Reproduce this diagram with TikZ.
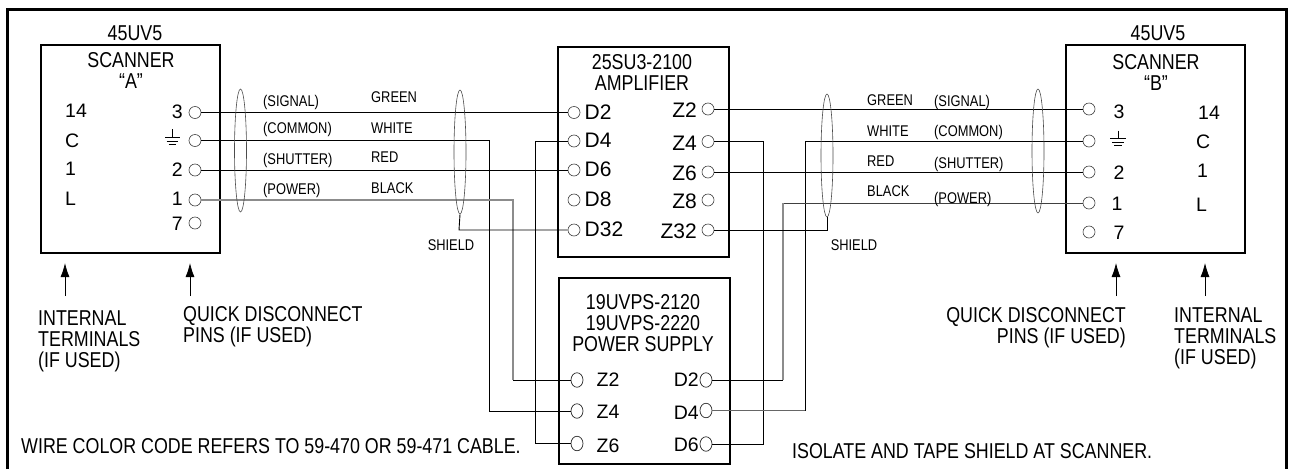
\documentclass[tikz,border=0pt]{standalone}
\usepackage{fontspec}
\usetikzlibrary{shapes.geometric,arrows.meta}
\setmainfont{Liberation Sans}
\newfontfamily\condf[FakeStretch=0.83]{Liberation Sans}
\tikzset{
 lbl/.style={inner sep=0pt,font=\condf\fontsize{21.5}{21}\selectfont},
 small/.style={inner sep=0pt,anchor=mid west,yshift=-3.4pt,font=\condf\fontsize{15.5}{16}\selectfont},
 pinlbl/.style={inner sep=0pt,anchor=mid,yshift=-4.8pt,font=\fontsize{19.5}{20}\selectfont},
 amplbl/.style={inner sep=0pt,anchor=mid,yshift=-5.3pt,font=\fontsize{21}{20}\selectfont},
 box/.style={draw,line width=2pt,rectangle,inner sep=0pt},
 pin/.style={draw=black!75,fill=white,line width=0.6pt,circle,minimum size=12pt,inner sep=0pt},
 pino/.style={draw=black!85,fill=white,line width=0.7pt,ellipse,minimum width=12pt,minimum height=14.5pt,inner sep=0pt},
 shield/.style={draw=black!70,line width=0.6pt,ellipse,minimum width=12pt,inner sep=0pt},
 wire/.style={draw,line width=0.9pt},
 gwire/.style={draw=black!45,line width=1.1pt},
 upar/.style={draw,line width=0.8pt,-{Latex[length=14pt,width=9pt]}},
 gndl/.style={line width=0.8pt}
}
\begin{document}
\begin{tikzpicture}[x=1pt,y=-1pt]
\useasboundingbox (0,0) rectangle (1290,469);
\fill[white] (0,0) rectangle (1290,469);
\draw[line width=3pt] (7.5,469) -- (7.5,9.5) -- (1286.5,9.5) -- (1286.5,469);
% boxes
\node[box,minimum width=179pt,minimum height=208pt] (sa) at (130.5,149) {};
\node[box,minimum width=179pt,minimum height=208pt] (sb) at (1155.5,149) {};
\node[box,minimum width=171pt,minimum height=210pt] (amp) at (643.5,152) {};
\node[box,minimum width=171pt,minimum height=186pt] (ps) at (644.5,371) {};
% titles
\node[lbl] (tA) at (135,33) {45UV5};
\node[lbl,align=center] (nA) at (131,70.5) {SCANNER\\“A”};
\node[lbl] (tB) at (1158,33) {45UV5};
\node[lbl,align=center] (nB) at (1156,72.5) {SCANNER\\“B”};
\node[lbl,align=center] (nAmp) at (642,72.5) {25SU3-2100\\AMPLIFIER};
\node[lbl,align=center] (nPs) at (643,323) {19UVPS-2120\\19UVPS-2220\\POWER SUPPLY};
% scanner A pins
\node[pin] (a3) at (195,112.5) {};
\node[pin] (ag) at (195,140.5) {};
\node[pin] (a2) at (195,170) {};
\node[pin] (a1) at (195,200) {};
\node[pin] (a7) at (195,223) {};
\node[pinlbl,anchor=mid west] (l14a) at (65,110.5) {14};
\node[pinlbl,anchor=mid west] (lca) at (65,140.5) {C};
\node[pinlbl,anchor=mid west] (l1a) at (65,168) {1};
\node[pinlbl,anchor=mid west] (lla) at (65,198) {L};
\node[pinlbl,anchor=mid east] (n3a) at (183,111.5) {3};
\node[pinlbl,anchor=mid east] (n2a) at (183,169) {2};
\node[pinlbl,anchor=mid east] (n1a) at (183,198) {1};
\node[pinlbl,anchor=mid east] (n7a) at (183,223) {7};
\draw[gndl] (172,129) -- (172,137) (165,137) -- (180,137) (166.5,141) -- (178,141) (168.5,144.5) -- (176,144.5);
% scanner B pins
\node[pin] (b3) at (1089,109) {};
\node[pin] (bg) at (1089,141) {};
\node[pin] (b2) at (1089,172) {};
\node[pin] (b1) at (1089,203) {};
\node[pin] (b7) at (1089,232) {};
\node[pinlbl] (n3b) at (1119,111) {3};
\node[pinlbl] (n2b) at (1119,172) {2};
\node[pinlbl] (n1b) at (1117,203) {1};
\node[pinlbl] (n7b) at (1119,232) {7};
\node[pinlbl,anchor=mid west] (l14b) at (1198,112) {14};
\node[pinlbl,anchor=mid west] (lcb) at (1196,141) {C};
\node[pinlbl,anchor=mid west] (l1b) at (1197,170) {1};
\node[pinlbl,anchor=mid west] (llb) at (1196,204) {L};
\draw[gndl] (1118,130.5) -- (1118,138) (1110,138) -- (1125.5,138) (1112,142) -- (1124,142) (1114,145.5) -- (1122,145.5);
% amplifier pins
\foreach \n/\y/\t in {d2/112.5/D2,d4/141/D4,d6/170/D6,d8/200/D8,d32/230/D32}{
  \node[pin] (\n) at (574,\y) {};
  \node[amplbl,anchor=mid west] (l\n) at (584.5,\y-1) {\t};
}
\foreach \n/\y/\t in {z2/109/Z2,z4/141.5/Z4,z6/172/Z6,z8/200/Z8,z32/230/Z32}{
  \node[pin] (\n) at (708,\y) {};
  \node[amplbl,anchor=mid east] (l\n) at (697,\y+1) {\t};
}
% power supply pins
\node[pino] (pz2) at (577,380) {};
\node[pino] (pz4) at (577,411) {};
\node[pino] (pz6) at (577,443.5) {};
\node[pino] (pd2) at (706,380) {};
\node[pino] (pd4) at (706,410.5) {};
\node[pino] (pd6) at (706,444) {};
\node[pinlbl,anchor=mid west] (lpz2) at (596.5,379) {Z2};
\node[pinlbl,anchor=mid west] (lpz4) at (596.5,411) {Z4};
\node[pinlbl,anchor=mid west] (lpz6) at (596.5,445) {Z6};
\node[pinlbl,anchor=mid east] (lpd2) at (699,379) {D2};
\node[pinlbl,anchor=mid east] (lpd4) at (699,412.5) {D4};
\node[pinlbl,anchor=mid east] (lpd6) at (699,444.5) {D6};
% elbow coordinates
\coordinate (e1) at (489,140.5); \coordinate (e2) at (489,411);
\coordinate (e3) at (513,200); \coordinate (e4) at (513,380);
\coordinate (e5) at (535,141); \coordinate (e6) at (535,443.5);
\coordinate (e7) at (763,141.5); \coordinate (e8) at (763,444);
\coordinate (e9) at (805,141); \coordinate (e10) at (805,410.5);
\coordinate (e11) at (783,203); \coordinate (e12) at (783,380);
% wires
\draw[wire] (a3.east) -- (d2.west);
\draw[wire] (ag.east) -- (e1) -- (e2) -- (pz4.west);
\draw[wire] (a2.east) -- (d6.west);
\draw[gwire] (a1.east) -- (e3) -- (e4);
\draw[wire] (e4) -- (pz2.west);
\draw[wire] (d4.west) -- (e5) -- (e6) -- (pz6.west);
\draw[wire] (z2.east) -- (b3.west);
\draw[wire] (z4.east) -- (e7) -- (e8) -- (pd6.east);
\draw[wire] (z6.east) -- (b2.west);
\draw[wire] (bg.west) -- (e9) -- (e10);
\draw[draw=black!60,line width=0.8pt] (e10) -- (pd4.east);
\draw[draw=black!75,line width=0.8pt] (b1.west) -- (e11);
\draw[gwire] (e11) -- (e12);
\draw[wire] (e12) -- (pd2.east);
% shields
\node[shield,minimum height=123pt] (s1) at (240.5,150.5) {};
\node[shield,minimum height=124pt] (s2) at (460,152) {};
\node[shield,minimum height=123pt] (s3) at (827,155.5) {};
\node[shield,minimum height=124pt] (s4) at (1038,151) {};
\coordinate (e13) at (459,230); \coordinate (e14) at (827,230);
\draw[wire] (s2.south) -- (e13) -- (d32.west);
\draw[wire] (s3.south) -- (e14) -- (z32.east);
\node[small,anchor=mid] (sl1) at (451,244) {SHIELD};
\node[small,anchor=mid] (sl2) at (854,244) {SHIELD};
% wire labels
\node[small] (w1) at (263,100) {(SIGNAL)};
\node[small] (w2) at (263,127) {(COMMON)};
\node[small] (w3) at (263,158) {(SHUTTER)};
\node[small] (w4) at (263,188) {(POWER)};
\node[small] (c1) at (371,96) {GREEN};
\node[small] (c2) at (371,127) {WHITE};
\node[small] (c3) at (371,156) {RED};
\node[small] (c4) at (371,187) {BLACK};
\node[small] (c5) at (867,99) {GREEN};
\node[small] (c6) at (867,130) {WHITE};
\node[small] (c7) at (867,160) {RED};
\node[small] (c8) at (867,190) {BLACK};
\node[small] (w5) at (934,100) {(SIGNAL)};
\node[small] (w6) at (934,130) {(COMMON)};
\node[small] (w7) at (934,162) {(SHUTTER)};
\node[small] (w8) at (934,197) {(POWER)};
% arrows
\coordinate (p1) at (65,296); \coordinate (q1) at (65,263);
\coordinate (p2) at (190,296); \coordinate (q2) at (190,263);
\coordinate (p3) at (1116,296); \coordinate (q3) at (1116,263);
\coordinate (p4) at (1205,296); \coordinate (q4) at (1205,263);
\draw[upar] (p1) -- (q1);
\draw[upar] (p2) -- (q2);
\draw[upar] (p3) -- (q3);
\draw[upar] (p4) -- (q4);
% notes
\node[lbl,anchor=north west,align=left] (it1) at (38,310.5) {INTERNAL\\TERMINALS\\(IF USED)};
\node[lbl,anchor=north west,align=left] (qd1) at (183,306.5) {QUICK DISCONNECT\\PINS (IF USED)};
\node[lbl,anchor=north east,align=right] (qd2) at (1126,307.5) {QUICK DISCONNECT\\PINS (IF USED)};
\node[lbl,anchor=north west,align=left] (it2) at (1174,307.5) {INTERNAL\\TERMINALS\\(IF USED)};
\node[lbl,anchor=mid west,yshift=-5.5pt] (n1) at (21,445) {WIRE COLOR CODE REFERS TO 59-470 OR 59-471 CABLE.};
\node[lbl,anchor=mid west,yshift=-5.5pt] (n2) at (792,450) {ISOLATE AND TAPE SHIELD AT SCANNER.};
\end{tikzpicture}
\end{document}
